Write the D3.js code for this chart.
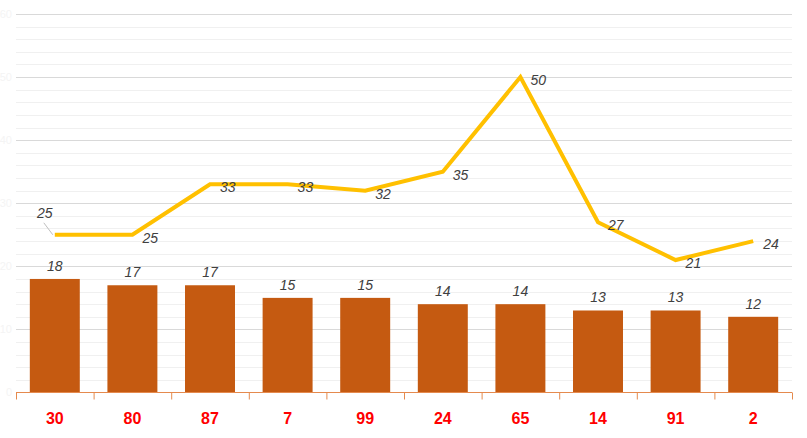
<!DOCTYPE html>
<html>
<head>
<meta charset="utf-8">
<script src="https://cdn.jsdelivr.net/npm/d3@7"></script>
<style>
  body { margin: 0; background: #fff; }
  svg { display: block; font-family: "Liberation Sans", Arial, sans-serif; }
</style>
</head>
<body>
<div id="chart"></div>
<script>
const categories = ["30", "80", "87", "7", "99", "24", "65", "14", "91", "2"];
const barValues = [18, 17, 17, 15, 15, 14, 14, 13, 13, 12];
const lineValues = [25, 25, 33, 33, 32, 35, 50, 27, 21, 24];
const yTicks = [0, 10, 20, 30, 40, 50, 60];

const width = 807, height = 438;
const margin = { top: 14, right: 15, bottom: 46, left: 16 };

const svg = d3.select("#chart").append("svg")
    .attr("width", width)
    .attr("height", height);

const x = d3.scaleBand()
    .domain(categories)
    .range([margin.left, width - margin.right])
    .paddingInner(0.356)
    .paddingOuter(0.178);

const y = d3.scaleLinear()
    .domain([0, 60])
    .range([height - margin.bottom + 0.5, margin.top]);

// Minor grid lines
svg.append("g")
    .selectAll("line")
    .data(d3.range(0, 61, 2).filter(v => v % 10 !== 0))
    .enter().append("line")
    .attr("x1", margin.left).attr("x2", width - margin.right)
    .attr("y1", d => Math.round(y(d)) + 0.5).attr("y2", d => Math.round(y(d)) + 0.5)
    .attr("stroke", "#f0f0f0");

// Major grid lines
svg.append("g")
    .selectAll("line")
    .data(yTicks.slice(1))
    .enter().append("line")
    .attr("x1", margin.left).attr("x2", width - margin.right)
    .attr("y1", d => Math.round(y(d)) + 0.5).attr("y2", d => Math.round(y(d)) + 0.5)
    .attr("stroke", "#d9d9d9");

// Faint axis labels (almost invisible in the original)
svg.append("g")
    .selectAll("text")
    .data(yTicks)
    .enter().append("text")
    .attr("x", 12)
    .attr("y", d => y(d))
    .attr("dy", "0.35em")
    .attr("text-anchor", "end")
    .attr("font-size", 11)
    .attr("fill", "#f4f4f4")
    .text(d => d);

// Bars
svg.append("g")
    .selectAll("rect")
    .data(barValues)
    .enter().append("rect")
    .attr("x", (d, i) => x(categories[i]))
    .attr("y", d => y(d))
    .attr("width", x.bandwidth())
    .attr("height", d => y(0) - y(d))
    .attr("fill", "#c55a11");

// Bar value labels
svg.append("g")
    .selectAll("text")
    .data(barValues)
    .enter().append("text")
    .attr("x", (d, i) => x(categories[i]) + x.bandwidth() / 2)
    .attr("y", d => y(d) - 8)
    .attr("text-anchor", "middle")
    .attr("font-size", 14)
    .attr("font-style", "italic")
    .attr("fill", "#404040")
    .text(d => d);

// X axis
const xAxis = svg.append("g")
    .attr("transform", `translate(0,${y(0)})`);
xAxis.append("line")
    .attr("x1", margin.left).attr("x2", width - margin.right)
    .attr("stroke", "#e58a4e").attr("stroke-width", 1.2);
const step = x.step();
xAxis.selectAll(".tick")
    .data(d3.range(categories.length + 1))
    .enter().append("line")
    .attr("x1", i => margin.left + i * step + 0.5)
    .attr("x2", i => margin.left + i * step + 0.5)
    .attr("y1", 0).attr("y2", 7)
    .attr("stroke", "#e58a4e");
xAxis.selectAll("text")
    .data(categories)
    .enter().append("text")
    .attr("x", d => x(d) + x.bandwidth() / 2)
    .attr("y", 26)
    .attr("dy", "0.35em")
    .attr("text-anchor", "middle")
    .attr("font-size", 16)
    .attr("font-weight", "bold")
    .attr("fill", "#ff0000")
    .text(d => d);

// Line series
const line = d3.line()
    .x((d, i) => x(categories[i]) + x.bandwidth() / 2)
    .y(d => y(d));

svg.append("path")
    .datum(lineValues)
    .attr("d", line)
    .attr("fill", "none")
    .attr("stroke", "#ffc000")
    .attr("stroke-width", 4)
    .attr("stroke-linejoin", "miter");

// Leader line for the first label
const cx0 = x(categories[0]) + x.bandwidth() / 2;
svg.append("line")
    .attr("x1", cx0 - 11).attr("y1", y(lineValues[0]) - 12)
    .attr("x2", cx0 - 2).attr("y2", y(lineValues[0]))
    .attr("stroke", "#bfbfbf");

// Line value labels
svg.append("g")
    .selectAll("text")
    .data(lineValues)
    .enter().append("text")
    .attr("x", (d, i) => x(categories[i]) + x.bandwidth() / 2 + (i === 0 ? -10 : 10))
    .attr("y", (d, i) => y(d) + (i === 0 ? -22 : 3))
    .attr("dy", "0.35em")
    .attr("text-anchor", (d, i) => i === 0 ? "middle" : "start")
    .attr("font-size", 14)
    .attr("font-style", "italic")
    .attr("fill", "#404040")
    .text(d => d);
</script>
</body>
</html>
